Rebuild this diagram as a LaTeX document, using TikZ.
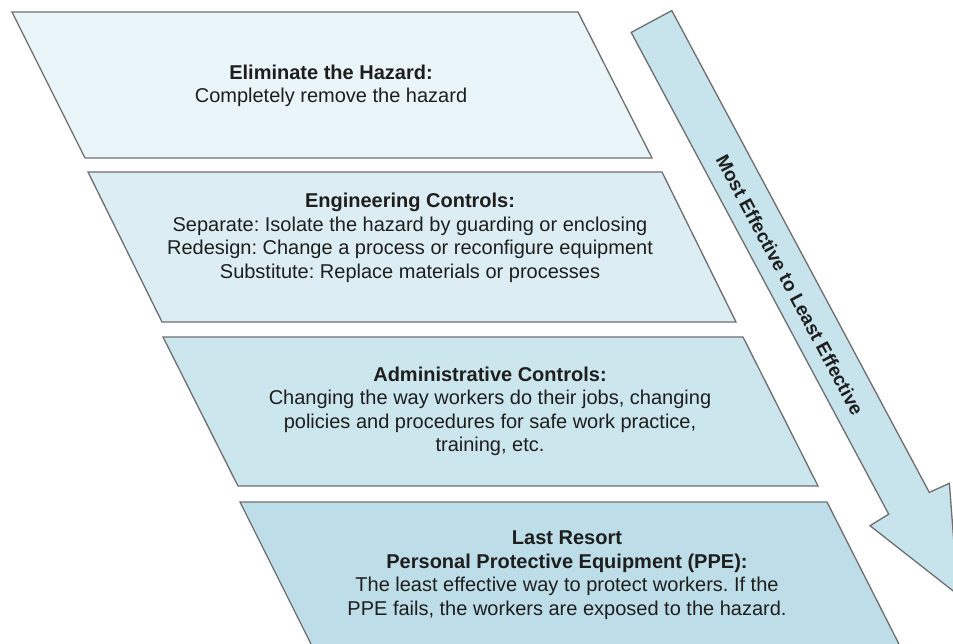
\documentclass[tikz,border=0pt]{standalone}
\usepackage{fontspec}
\setmainfont{Liberation Sans}
\usepackage{xcolor}
\usetikzlibrary{positioning,calc}
\frenchspacing

\definecolor{tierone}{HTML}{EAF5F9}
\definecolor{tiertwo}{HTML}{DCEEF4}
\definecolor{tierthree}{HTML}{CCE6EE}
\definecolor{tierfour}{HTML}{BDDEE8}
\definecolor{arrowfill}{HTML}{C7E3EC}
\definecolor{edgegray}{HTML}{6E6E6E}
\definecolor{textgray}{HTML}{1E1E1E}

\tikzset{
  tier/.style={draw=edgegray, line width=1.3pt, line join=miter},
  tiertext/.style={align=center, text=textgray, inner sep=0pt,
    font=\fontsize{20}{23.5}\selectfont},
}

\begin{document}
\begin{tikzpicture}[x=1pt, y=-1pt]
\useasboundingbox (0,0) rectangle (953,644);
\clip (0,0) rectangle (953,644);

% Tiers, most effective on top
\draw[tier, fill=tierone] (12,12) -- (578,12) -- (652,158) -- (85,158) -- cycle;
\draw[tier, fill=tiertwo] (88,172) -- (662,172) -- (736,322) -- (162,322) -- cycle;
\draw[tier, fill=tierthree] (163,337) -- (743,337) -- (818,486) -- (238,486) -- cycle;
\draw[tier, fill=tierfour] (240,502) -- (827,502) -- (904,654) -- (316,654) -- cycle;

% Tier texts
\node[tiertext] (elim) at (331,86)
  {\textbf{Eliminate the Hazard:}\\Completely remove the hazard};
\node[tiertext] (eng) at (410,238)
  {\textbf{Engineering Controls:}\\
   Separate: Isolate the hazard by guarding or enclosing\\
   Redesign: Change a process or reconfigure equipment\\
   Substitute: Replace materials or processes};
\node[tiertext] (admin) at (490,411.5)
  {\textbf{Administrative Controls:}\\
   Changing the way workers do their jobs, changing\\
   policies and procedures for safe work practice,\\
   training, etc.};
\node[tiertext] (ppe) at (567,575)
  {\textbf{Last Resort}\\
   \textbf{Personal Protective Equipment (PPE):}\\
   The least effective way to protect workers. If the\\
   PPE fails, the workers are exposed to the hazard.};

% Big arrow at the side
\draw[tier, fill=arrowfill] (631.2,32.4) -- (671.8,10.6) -- (929.3,492.4)
  -- (949.4,483.3) -- (957.8,594.6) -- (870,525.7) -- (888.7,514.2) -- cycle;
\node[tiertext, rotate=-61.9, font=\fontsize{19}{23}\selectfont] (scale) at (790,285)
  {\textbf{Most Effective to Least Effective}};
\end{tikzpicture}
\end{document}
